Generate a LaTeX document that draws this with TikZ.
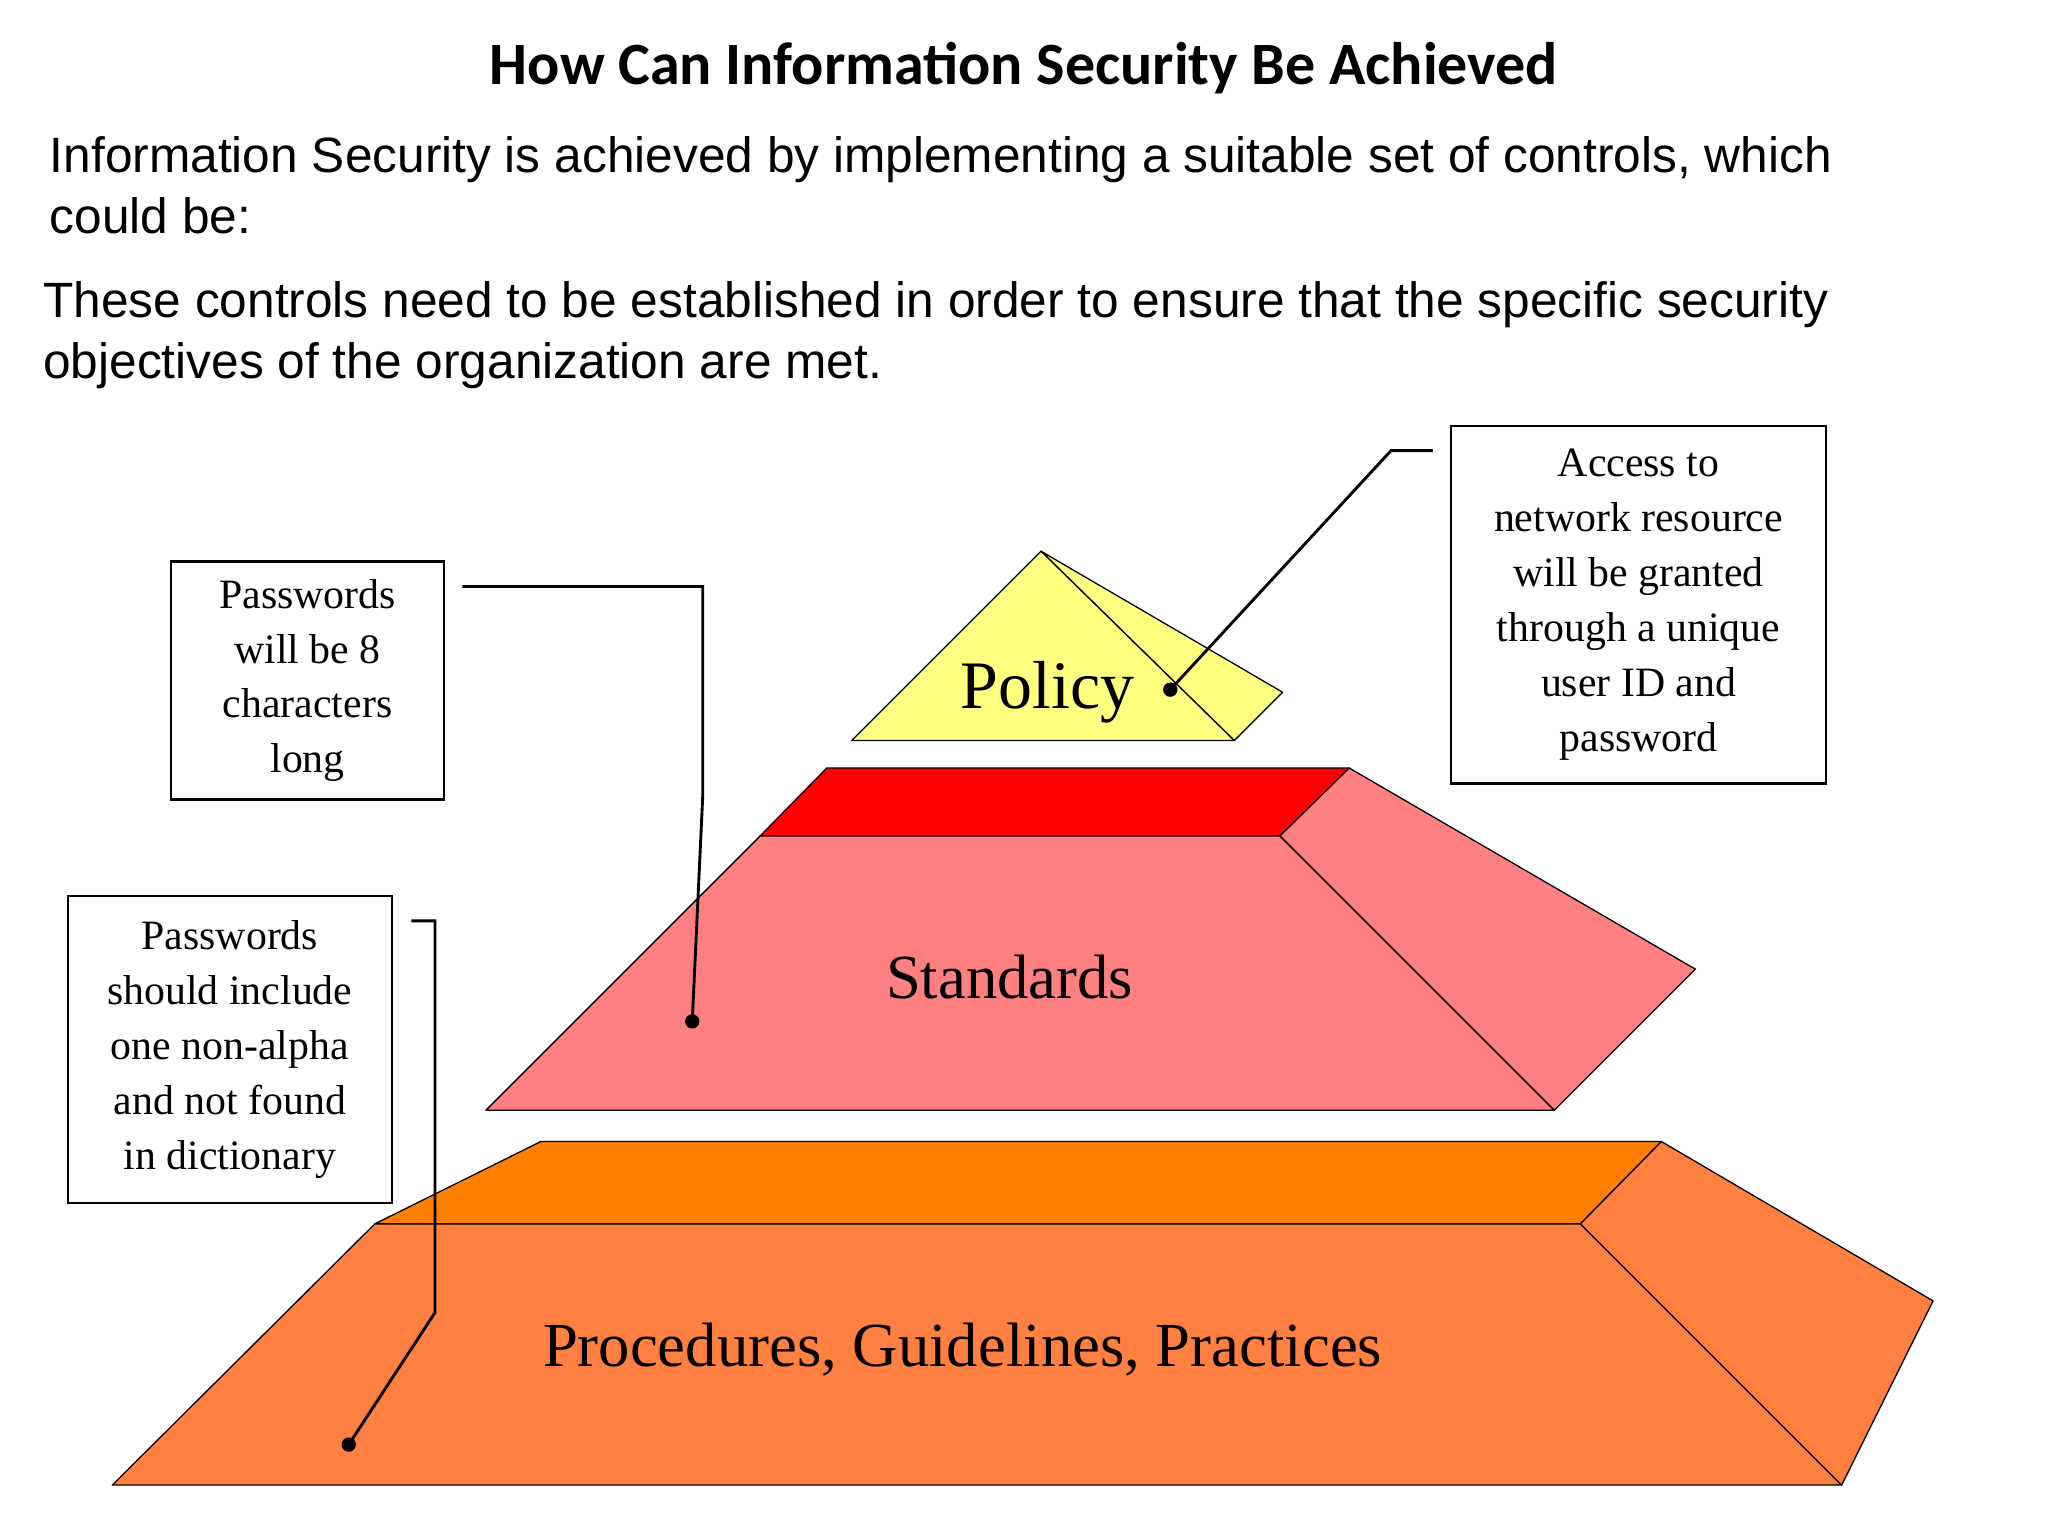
\documentclass[tikz,border=0pt]{standalone}
\usepackage{fontspec}
\setmainfont{Liberation Serif}
\newfontfamily\titlefont{Carlito}
\newfontfamily\arialf{Liberation Sans}
\begin{document}
\begin{tikzpicture}[x=1pt,y=-1pt,
 face/.style={draw=black,line width=1pt,line join=round},
 callout/.style={draw=black,line width=2pt,fill=white,align=center,font=\fontsize{32}{42}\selectfont,inner sep=0pt},
 lead/.style={line width=2.2pt},
 dot/.style={fill=black,circle,inner sep=0pt,minimum size=11pt}]
\useasboundingbox (0,0) rectangle (1568,1176);
\node[font=\titlefont\bfseries\fontsize{46}{50}\selectfont] (title) at (784,52) {How Can Information Security Be Achieved};
\node[font=\arialf\fontsize{38}{47}\selectfont,align=left,anchor=north west,inner sep=0pt] (p1) at (38,104) {Information Security is achieved by implementing a suitable set of controls, which\\could be:};
\node[font=\arialf\fontsize{38}{47}\selectfont,align=left,anchor=north west,inner sep=0pt] (p2) at (33,215) {These controls need to be established in order to ensure that the specific security\\objectives of the organization are met.};
% Procedures
\fill[fill={rgb,255:red,255;green,128;blue,0},face] (287,937)--(414,874)--(1272,874)--(1210,937)--cycle;
\fill[fill={rgb,255:red,255;green,128;blue,64},face] (86,1137)--(287,937)--(1210,937)--(1410,1137)--cycle;
\fill[fill={rgb,255:red,255;green,128;blue,64},face] (1210,937)--(1272,874)--(1480,996)--(1410,1137)--cycle;
\node[font=\fontsize{48}{50}\selectfont] (proc) at (737,1033) {Procedures, Guidelines, Practices};
% Standards
\fill[fill={rgb,255:red,255;green,0;blue,0},face] (582,640)--(633,588)--(1033,588)--(980,640)--cycle;
\fill[fill={rgb,255:red,255;green,128;blue,128},face] (372,850)--(582,640)--(980,640)--(1190,850)--cycle;
\fill[fill={rgb,255:red,255;green,128;blue,128},face] (980,640)--(1033,588)--(1298,742)--(1190,850)--cycle;
\node[font=\fontsize{48}{50}\selectfont] (std) at (773,748) {Standards};
% Policy
\fill[fill={rgb,255:red,255;green,255;blue,128},face] (797,422)--(982,530)--(945,567)--cycle;
\fill[fill={rgb,255:red,255;green,255;blue,128},face] (652,567)--(797,422)--(945,567)--cycle;
\node[font=\fontsize{52}{54}\selectfont] (pol) at (802,530) {Policy};
% Callouts
\node[callout,minimum width=209pt,minimum height=182pt] (b1) at (235.5,521) {Passwords\\will be 8\\characters\\long};
\node[callout,minimum width=248pt,minimum height=235pt] (b2) at (176,803.5) {Passwords\\should include\\one non-alpha\\and not found\\in dictionary};
\node[callout,minimum width=287pt,minimum height=274pt] (b3) at (1254.5,463) {Access to\\network resource\\will be granted\\through a unique\\user ID and\\password};
\coordinate (s1) at (354,449); \coordinate (s2) at (315,705); \coordinate (s3) at (1097,345);
\node[dot] (d1) at (530,782) {};
\node[dot] (d2) at (267,1106) {};
\node[dot] (d3) at (896,528) {};
\draw[lead] (s1) -- (538,449) -- (538,610) -- (d1.center);
\draw[lead] (s2) -- (333,705) -- (333,1005) -- (d2.center);
\draw[lead] (s3) -- (1065,345) -- (d3.center);
\end{tikzpicture}
\end{document}
